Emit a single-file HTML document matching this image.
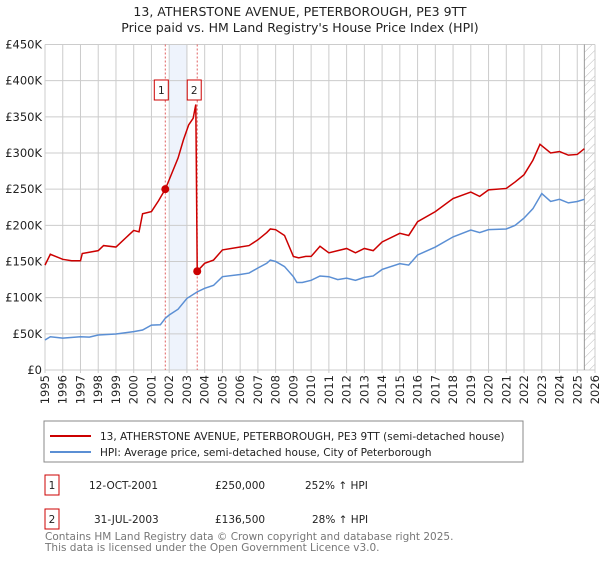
<!DOCTYPE html>
<html><head><meta charset="utf-8"><style>
body{margin:0;background:#fff;font-family:"Liberation Sans","DejaVu Sans",sans-serif;}
svg text{font-family:"DejaVu Sans","Liberation Sans",sans-serif;}
</style></head><body>
<svg id="c" width="600" height="560" xmlns="http://www.w3.org/2000/svg">
<text x="300" y="16" text-anchor="middle" font-size="12.5" fill="#222">13, ATHERSTONE AVENUE, PETERBOROUGH, PE3 9TT</text>
<text x="300" y="32" text-anchor="middle" font-size="12.5" fill="#222">Price paid vs. HM Land Registry's House Price Index (HPI)</text>
<defs><pattern id="hatch" width="6" height="6" patternUnits="userSpaceOnUse" patternTransform="rotate(45)"><line x1="0" y1="0" x2="0" y2="6" stroke="#bbb" stroke-width="1"/></pattern></defs>
<g id="plot"></g>
<rect x="44" y="421" width="479" height="41" fill="#fff" stroke="#888"/>
<line x1="50" y1="436" x2="91" y2="436" stroke="#cc0000" stroke-width="2"/>
<text x="100" y="440" font-size="10.5" fill="#222">13, ATHERSTONE AVENUE, PETERBOROUGH, PE3 9TT (semi-detached house)</text>
<line x1="50" y1="452" x2="91" y2="452" stroke="#5b8fd4" stroke-width="2"/>
<text x="100" y="456" font-size="10.5" fill="#222">HPI: Average price, semi-detached house, City of Peterborough</text>
<rect x="45" y="475" width="14" height="20" fill="none" stroke="#cc0000"/>
<text x="52" y="489" text-anchor="middle" font-size="10.5" fill="#222">1</text>
<text x="89" y="489" font-size="10.5" fill="#222">12-OCT-2001</text>
<text x="215" y="489" font-size="10.5" fill="#222">£250,000</text>
<text x="305" y="489" font-size="10.5" fill="#222">252% ↑ HPI</text>
<rect x="45" y="509" width="14" height="20" fill="none" stroke="#cc0000"/>
<text x="52" y="523" text-anchor="middle" font-size="10.5" fill="#222">2</text>
<text x="94" y="523" font-size="10.5" fill="#222">31-JUL-2003</text>
<text x="215" y="523" font-size="10.5" fill="#222">£136,500</text>
<text x="312" y="523" font-size="10.5" fill="#222">28% ↑ HPI</text>
<text x="45" y="540" font-size="10.5" fill="#777">Contains HM Land Registry data © Crown copyright and database right 2025.</text>
<text x="45" y="551" font-size="10.5" fill="#777">This data is licensed under the Open Government Licence v3.0.</text>
</svg>
<script>
const yTicks=[0,50,100,150,200,250,300,350,400,450];
const yTickLabels=["£0","£50K","£100K","£150K","£200K","£250K","£300K","£350K","£400K","£450K"];
const xYears=[1995,1996,1997,1998,1999,2000,2001,2002,2003,2004,2005,2006,2007,2008,2009,2010,2011,2012,2013,2014,2015,2016,2017,2018,2019,2020,2021,2022,2023,2024,2025,2026];
const hpiDates=[1995,1995.3,1996,1997,1997.5,1998,1999,2000,2000.5,2001,2001.5,2001.78,2002,2002.5,2003,2003.58,2004,2004.5,2005,2006,2006.5,2007,2007.5,2007.7,2008,2008.5,2009,2009.2,2009.5,2010,2010.5,2011,2011.5,2012,2012.5,2013,2013.5,2014,2015,2015.5,2016,2017,2018,2019,2019.5,2020,2021,2021.5,2022,2022.5,2023,2023.5,2024,2024.5,2025,2025.4];
const hpiValues=[41.5,46,44,46,45.5,48.4,49.8,53,55.3,62,62.5,71.5,76,84,99,108,113,117,129,132,134,141,147.5,152,150,143,129,121,121,124,130,129,125,127,124,128,130,139,147,145,159,170,184,193.5,190,194,195,200,210,223,244,233,236,231,233,236];
const saleDates=[2001.78,2003.58];
const saleValues=[250,136.5];
const propDates=[1995,1995.3,1996,1996.5,1997,1997.1,1998,1998.3,1999,2000,2000.3,2000.5,2001,2001.4,2001.78,2002,2002.5,2002.8,2003.1,2003.35,2003.5,2003.58,2004,2004.5,2005,2006,2006.5,2007,2007.5,2007.7,2008,2008.5,2009,2009.3,2009.7,2010,2010.5,2011,2012,2012.5,2013,2013.5,2014,2015,2015.5,2016,2017,2018,2019,2019.5,2020,2021,2021.5,2022,2022.5,2022.9,2023.5,2024,2024.5,2025,2025.4];
const propValues=[145,160,153,151,151,161,165,172,170,193,191,216,219,234,250,263,293,318,339,348,367,136.5,147.5,152,166,170,172,180,190,195,194,186,157,155,157,157,171,162,168,162,168,165,177,189,186,205,219,237,246,240,249,251,260,270,290,312,300,302,297,298,306];
const L=45,R=595,T=44.5,B=370;
const x=t=>L+(t-1995)/(2026-1995)*(R-L);
const y=v=>B-v/450*(B-T);
const g=document.getElementById('plot');
const NS='http://www.w3.org/2000/svg';
function mk(tag,attrs,parent){const e=document.createElementNS(NS,tag);for(const k in attrs)e.setAttribute(k,attrs[k]);(parent||g).appendChild(e);return e;}
mk('rect',{x:L,y:T,width:R-L,height:B-T,fill:'#fff'});
let band=mk('rect',{x:x(2002),y:T,width:x(2003)-x(2002),height:B-T,fill:'#eef3fc'});


let hat=mk('rect',{x:x(2025.4),y:T,width:R-x(2025.4),height:B-T,fill:'url(#hatch)'});


yTicks.forEach((v,i)=>{
  let l=mk('line',{x1:L,x2:R,y1:y(v),y2:y(v),stroke:'#ccc','stroke-width':1});
  
  
  let t=mk('text',{x:L-3,y:y(v)+4,'text-anchor':'end','font-size':11.5,fill:'#222'});
  t.textContent=yTickLabels[i];
  
  
});
xYears.forEach(yr=>{
  let l=mk('line',{x1:x(yr),x2:x(yr),y1:T,y2:B+3,stroke:'#ccc','stroke-width':1});
  
  
  let t=mk('text',{x:0,y:0,'text-anchor':'end','font-size':11.5,fill:'#222',transform:`translate(${x(yr)+4},${B+5}) rotate(-90)`});
  t.textContent=yr;
  
  
});
let hx=mk('line',{x1:x(2025.4),x2:x(2025.4),y1:T,y2:B,stroke:'#999','stroke-width':1});


saleDates.forEach((d,i)=>{
  let l=mk('line',{x1:x(d),x2:x(d),y1:T,y2:B,stroke:'#e06060','stroke-width':1,'stroke-dasharray':'2,2'});
  
  
});
let hp=mk('polyline',{points:hpiDates.map((d,i)=>x(d)+','+y(hpiValues[i])).join(' '),fill:'none',stroke:'#5b8fd4','stroke-width':1.5});


let pp=mk('polyline',{points:propDates.map((d,i)=>x(d)+','+y(propValues[i])).join(' '),fill:'none',stroke:'#cc0000','stroke-width':1.5});


saleDates.forEach((d,i)=>{
  let c=mk('circle',{cx:x(d),cy:y(saleValues[i]),r:4,fill:'#cc0000'});
  
  
  let off=(i==0?-11:-10);
  let r=mk('rect',{x:x(d)+off,y:80,width:14,height:20,fill:'#fff',stroke:'#cc0000'});
  
  
  let t=mk('text',{x:x(d)+off+7,y:94,'text-anchor':'middle','font-size':10.5,fill:'#222'});
  t.textContent=String(i+1);
  
  
});
</script>
</body></html>
